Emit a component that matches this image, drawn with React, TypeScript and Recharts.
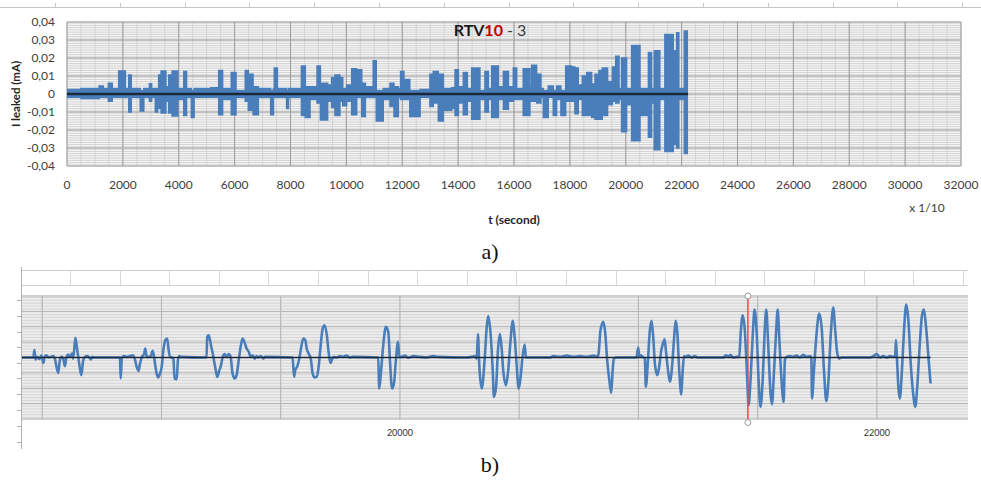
import React from 'react';
import {
  ComposedChart, Area, Line, XAxis, YAxis, CartesianGrid, ReferenceLine, ReferenceDot,
} from 'recharts';

// ---------- chart a) : full record ----------
const topXTicks = [0, 2000, 4000, 6000, 8000, 10000, 12000, 14000, 16000, 18000, 20000, 22000, 24000, 26000, 28000, 30000, 32000];
const topYTicks = [-0.04, -0.03, -0.02, -0.01, 0, 0.01, 0.02, 0.03, 0.04];

// envelope of the leakage current (start time of each stretch, its max and min)
const leakT = [0, 500, 1150, 1300, 1480, 1620, 1850, 2090, 2210, 2300, 2620, 2750, 2950, 3030, 3160, 3240, 3280, 3370, 3540, 3640,
  3760, 3970, 4180, 4280, 4450, 4550, 5150, 5430, 5570, 5880, 6050, 6380, 6490, 6660, 6850, 7290, 7390, 7420, 7530, 7860,
  7930, 8390, 8530, 8700, 8950, 9070, 9330, 9470, 9590, 9770, 9870, 10010, 10190, 10370, 10550, 10680, 10960, 11070, 11320, 11560,
  11705, 11860, 11940, 12060, 12270, 12640, 12990, 13110, 13290, 13470, 13770, 13890, 14010, 14185, 14330, 14485, 14780, 14960, 15080, 15200,
  15440, 15620, 15800, 15975, 16095, 16330, 16570, 16630, 16810, 16965, 17050, 17225, 17405, 17525, 17680, 17850, 18060, 18180, 18300, 18445,
  18600, 18780, 18900, 19040, 19160, 19350, 19520, 19640, 19760, 19850, 20030, 20210, 20510, 20810, 20925, 21020, 21220, 21400, 21700, 21820,
  21900, 22095, 22230];
const leakHigh = [0.0025, 0.003, 0.0045, 0.003, 0.006, 0.003, 0.0128, 0.003, 0.0105, 0.003, 0.002, 0.003, 0.0057, 0.003, 0.003, 0.002, 0.0105, 0.0128, 0.004, 0.0105,
  0.0128, 0.003, 0.0125, 0.003, 0.002, 0.003, 0.0035, 0.013, 0.003, 0.012, 0.002, 0.013, 0.011, 0.004, 0.003, 0.002, 0.003, 0.0145, 0.003, 0.002,
  0.003, 0.0155, 0.004, 0.004, 0.0155, 0.006, 0.005, 0.009, 0.0105, 0.009, 0.003, 0.005, 0.014, 0.0135, 0.006, 0.004, 0.0185, 0.002, 0.003, 0.006,
  0.004, 0.003, 0.0125, 0.008, 0.002, 0.0025, 0.011, 0.0125, 0.011, 0.003, 0.0035, 0.0135, 0.004, 0.012, 0.003, 0.0145, 0.002, 0.0125, 0.003, 0.0155,
  0.004, 0.0125, 0.004, 0.0145, 0.003, 0.014, 0.004, 0.016, 0.011, 0.003, 0.002, 0.0045, 0.002, 0.0045, 0.002, 0.0155, 0.015, 0.0145, 0.005, 0.010,
  0.012, 0.0055, 0.011, 0.013, 0.0145, 0.007, 0.015, 0.021, 0.003, 0.020, 0.003, 0.027, 0.003, 0.023, 0.003, 0.024, 0.003, 0.033, 0.024, 0.034,
  0.003, 0.035, 0.035];
const leakLow = [-0.002, -0.0025, -0.002, -0.002, -0.004, -0.002, -0.002, -0.002, -0.010, -0.002, -0.0095, -0.002, -0.004, -0.002, -0.010, -0.002, -0.008, -0.0105, -0.004, -0.0105,
  -0.0122, -0.003, -0.012, -0.002, -0.013, -0.002, -0.002, -0.0115, -0.003, -0.0115, -0.002, -0.004, -0.009, -0.0115, -0.002, -0.0115, -0.002, -0.002, -0.002, -0.008,
  -0.002, -0.012, -0.013, -0.003, -0.005, -0.0145, -0.004, -0.0075, -0.012, -0.004, -0.0065, -0.004, -0.0115, -0.002, -0.0125, -0.002, -0.002, -0.015, -0.003, -0.007,
  -0.0125, -0.002, -0.003, -0.003, -0.0125, -0.002, -0.007, -0.005, -0.015, -0.009, -0.008, -0.012, -0.005, -0.0115, -0.004, -0.014, -0.003, -0.010, -0.003, -0.013,
  -0.003, -0.0085, -0.004, -0.003, -0.003, -0.012, -0.004, -0.004, -0.005, -0.002, -0.013, -0.002, -0.012, -0.003, -0.012, -0.004, -0.004, -0.011, -0.003, -0.012,
  -0.012, -0.013, -0.014, -0.014, -0.012, -0.006, -0.004, -0.005, -0.003, -0.021, -0.006, -0.026, -0.012, -0.024, -0.005, -0.031, -0.003, -0.032, -0.028, -0.030,
  -0.003, -0.033, -0.033];
const leakBase = 0;

// ---------- chart b) : zoomed part ----------
const zoomXTicks = [20000, 22000];
const zoomGridX = [18500, 19000, 19500, 20000, 20500, 21000, 21500, 22000];
const zoomT = [18411, 18463, 18467, 18472, 18479, 18488, 18496, 18505, 18510, 18518, 18527, 18535, 18546, 18553, 18560, 18567, 18574, 18581, 18588, 18595,
  18602, 18609, 18616, 18625, 18630, 18639, 18647, 18655, 18664, 18672, 18679, 18689, 18697, 18704, 18711, 18717,
  18826, 18829, 18834, 18843, 18854, 18868, 18879, 18888, 18896, 18904, 18910, 18918, 18927, 18932, 18938, 18946, 18955, 18963, 18969, 18977,
  18985, 18994, 19001, 19008, 19016, 19024, 19030, 19036, 19043, 19050, 19055, 19064, 19069, 19075, 19080,
  19189, 19192, 19198, 19203, 19209, 19215, 19220, 19229, 19234, 19243, 19248, 19257, 19265, 19273, 19282, 19290, 19298, 19307, 19315, 19324,
  19332, 19340, 19349, 19357, 19366, 19374, 19382, 19391, 19399, 19407, 19416, 19427, 19434,
  19550, 19556, 19561, 19570, 19578, 19586, 19595, 19603, 19609, 19617, 19626, 19634, 19642, 19651, 19659, 19667, 19676, 19684, 19693, 19702,
  19709, 19715, 19723, 19734, 19748, 19762, 19776, 19790, 19802,
  19909, 19913, 19920, 19930, 19941, 19951, 19958, 19967, 19975, 19983, 19992, 19997, 20007, 20021, 20035, 20056, 20084, 20112, 20140, 20161,
  20273, 20301, 20315, 20322, 20327, 20333, 20343, 20355, 20364, 20370, 20380, 20389, 20394, 20403, 20411, 20419, 20426, 20433, 20445, 20454,
  20464, 20472, 20481, 20489, 20498, 20506, 20514, 20523, 20528, 20538,
  20629, 20643, 20671, 20699, 20727, 20755, 20783, 20811, 20828, 20833, 20841, 20853, 20861, 20869, 20878, 20886, 20892, 20897, 20909,
  20992, 20999, 21004, 21009, 21018, 21027, 21031, 21040, 21048, 21055, 21062, 21069, 21079, 21087, 21096, 21101, 21110, 21115, 21124, 21132,
  21141, 21149, 21156, 21163, 21171, 21180, 21185, 21191, 21199, 21209, 21223, 21237, 21247,
  21356, 21367, 21378, 21386, 21398, 21412, 21423, 21428, 21437, 21445, 21454, 21462, 21470, 21479, 21487, 21496, 21504, 21512, 21521, 21529,
  21536, 21544, 21554, 21560, 21568, 21577, 21584, 21591, 21600, 21609, 21614, 21621, 21635, 21649, 21663, 21677, 21691, 21705, 21719, 21725,
  21728, 21736, 21747, 21758, 21768, 21778, 21788, 21797, 21806, 21817, 21825, 21834, 21842, 21852,
  21971, 21985, 21999, 22013, 22027, 22041, 22055, 22069, 22076, 22080, 22084, 22090, 22096, 22105, 22113, 22123, 22132, 22141, 22152, 22161,
  22169, 22180, 22189, 22197, 22206, 22217, 22225];
const zoomV = [0, 0, 0.0048, -0.0013, 0.0004, -0.0009, 0.0013, -0.0035, 0.0004, 0.0015, 0, 0.0004, 0.0009, -0.0007, -0.0061, -0.0100, -0.0017, 0.0004, -0.0007, -0.0056,
  0.0004, 0.0020, 0.0004, 0.0026, -0.0007, 0.0128, 0.0048, -0.0039, -0.0115, -0.0017, 0.0004, 0.0009, 0, -0.0013, 0.0004, 0,
  0, -0.0137, 0, 0.0009, 0.0004, 0.0009, 0.0015, -0.0007, -0.0061, -0.0087, -0.0039, 0.0004, 0.0022, 0.0059, 0.0004, 0.0004, 0.0009, 0.0043, 0.0004, -0.0082,
  -0.0130, -0.0104, -0.0061, 0.0048, 0.0113, 0.0124, 0.0048, 0.0004, 0, -0.0007, -0.0137, -0.0141, -0.0017, 0.0009, 0.0004,
  0, 0.0135, 0.0145, 0.0117, 0.0069, 0.0026, -0.0017, -0.0093, -0.0126, -0.0082, -0.0061, 0.0004, 0.0022, 0.0004, 0.0022, 0.0004, -0.0104, -0.0137, -0.0115, -0.0017,
  0.0069, 0.0124, 0.0095, 0.0059, 0.0037, 0.0004, 0.0015, -0.0007, 0.0009, 0, 0.0009, -0.0007, 0.0004,
  0, -0.0126, -0.0082, -0.0056, -0.0007, 0.0069, 0.0124, 0.0113, 0.0059, 0.0026, -0.0007, -0.0104, -0.0130, -0.0126, -0.0061, 0.0069, 0.0189, 0.0210, 0.0150, 0.0020,
  -0.0035, -0.0013, 0.0004, 0, 0.0009, 0.0004, 0.0013, 0, 0.0004,
  0, -0.0202, -0.0104, 0.0080, 0.0200, 0.0167, -0.0017, -0.0202, -0.0169, -0.0017, 0.0102, 0.0004, 0.0004, 0.0013, -0.0002, 0.0009, 0.0004, 0, 0.0009, 0.0004,
  0, 0.0004, 0.0009, -0.0007, 0.0152, -0.0061, -0.0202, -0.0017, 0.0200, 0.0269, 0.0156, -0.0082, -0.0256, -0.0191, 0.0048, 0.0152, 0.0069, -0.0082, -0.0180, -0.0082,
  0.0113, 0.0239, 0.0134, -0.0039, -0.0202, -0.0126, 0.0004, 0.0085, 0, 0,
  0, 0.0009, 0.0004, 0.0013, 0.0004, 0.0009, 0.0004, 0.0013, 0.0004, 0.0026, 0.0178, 0.0232, 0.0156, -0.0017, -0.0147, -0.0230, -0.0082, -0.0007, 0,
  0, 0.0065, 0.0004, 0.0015, 0.0004, -0.0007, -0.0191, -0.0017, 0.0178, 0.0239, 0.0134, -0.0039, -0.0115, -0.0061, 0.0048, 0.0080, 0.0119, 0.0048, -0.0082, -0.0158,
  -0.0061, 0.0113, 0.0239, 0.0167, -0.0082, -0.0241, -0.0104, 0.0009, 0.0004, 0.0013, 0, 0.0009, 0,
  0, 0.0015, 0.0004, 0.0017, 0, 0.0004, 0.0004, 0.0135, 0.0275, 0.0200, -0.0061, -0.0310, -0.0147, 0.0134, 0.0312, 0.0156, -0.0147, -0.0321, -0.0147, 0.0156,
  0.0312, 0.0091, -0.0234, -0.0304, -0.0104, 0.0156, 0.0312, 0.0113, -0.0147, -0.0289, -0.0017, 0.0004, 0.0009, 0.0004, 0.0013, 0, 0.0017, 0.0004, 0.0009, 0,
  -0.0267, -0.0082, 0.0156, 0.0286, 0.0200, -0.0082, -0.0284, -0.0147, 0.0134, 0.0325, 0.0178, 0.0026, -0.0007, 0,
  0, 0.0009, 0.0022, 0, 0.0009, 0, 0.0009, 0.0004, 0.0004, 0.0113, 0, -0.0191, -0.0267, -0.0082, 0.0156, 0.0345, 0.0243, -0.0017, -0.0234, -0.0321,
  -0.0191, 0.0091, 0.0275, 0.0312, 0.0200, -0.0017, -0.0169];
const markerT = 21459;
const markerTop = 0.04;
const markerBottom = -0.0423;

// ---------- tables built for recharts ----------
const topRows = leakT.map((t, i) => ({ t, band: [leakLow[i], leakHigh[i]], base: leakBase }));
const zoomRows = zoomT.map((t, i) => ({ t, v: zoomV[i], base: 0 }));

const steps = (from: number, to: number, step: number, scale: number) => {
  const out: number[] = [];
  for (let k = Math.round(from / step); k <= Math.round(to / step); k++) out.push(Math.round(k * step * scale) / scale);
  return out;
};
const topMinorY = steps(-0.04, 0.04, 0.001, 10000);
const topMinorX = steps(0, 32000, 500, 1);
const zoomMinorY = steps(-0.04, 0.04, 0.001, 10000);

const fmtY = (v: number) => (v === 0 ? '0' : v.toFixed(2).replace('.', ','));

const FONT = 'Lato, "Open Sans", sans-serif';
const BLUE = '#4a7ebb';
const DARK = '#1d2838';

const abs = (left: number, top: number, w: number, h: number, bg: string): React.CSSProperties => ({
  position: 'absolute', left, top, width: w, height: h, background: bg,
});

const Centered = ({ x, y, children, style }: { x: number; y: number; children: React.ReactNode; style?: React.CSSProperties }) => (
  <div style={{ position: 'absolute', left: x, top: y, transform: 'translate(-50%, -50%)', whiteSpace: 'nowrap', lineHeight: 1, ...style }}>
    {children}
  </div>
);

const rulerTicks = Array.from({ length: 15 }, (_, k) => 55 + 64.8 * k);
const cellDividers = Array.from({ length: 19 }, (_, k) => 70 + 49.6 * k);
const leftAxisTicks = [300, 316, 332, 347, 363, 378, 394, 410, 426, 442];

export default function App() {
  return (
    <div style={{ position: 'absolute', left: 0, top: 0, width: 981, height: 480, background: '#fff', overflow: 'hidden', fontFamily: FONT }}>
      {/* ruler at the very top */}
      <div style={abs(0, 7, 981, 1, '#c6c6c6')} />
      {rulerTicks.map((x) => <div key={x} style={abs(Math.round(x), 3, 1, 4, '#c6c6c6')} />)}

      {/* chart a) */}
      <div style={{ position: 'absolute', left: 0, top: 0 }}>
        <ComposedChart width={981} height={240} data={topRows} margin={{ top: 22, right: 20, bottom: 0, left: 0 }}>
          <CartesianGrid stroke="#d2d2d2" horizontalValues={topMinorY} verticalValues={topMinorX} />
          <CartesianGrid stroke="#9c9c9c" horizontalValues={topYTicks} verticalValues={topXTicks} />
          <XAxis type="number" dataKey="t" domain={[0, 32000]} ticks={topXTicks} interval={0} allowDataOverflow
            axisLine={false} tickLine={false} tickSize={12} height={74}
            tick={{ fill: '#404040', fontSize: 12, fontFamily: FONT }} />
          <YAxis type="number" domain={[-0.04, 0.04]} ticks={topYTicks} interval={0} allowDataOverflow
            axisLine={false} tickLine={false} tickSize={10} width={67} tickFormatter={fmtY}
            tick={{ fill: '#404040', fontSize: 12, fontFamily: FONT }} />
          <Area type="stepAfter" dataKey="band" stroke={BLUE} strokeWidth={1.5} fill={BLUE} fillOpacity={1} isAnimationActive={false} />
          <Line type="linear" dataKey="base" stroke={DARK} strokeWidth={2.5} dot={false} isAnimationActive={false} />
        </ComposedChart>
      </div>

      <Centered x={16} y={94} style={{ transform: 'translate(-50%, -50%) rotate(-90deg)', fontSize: 11.5, fontWeight: 700, color: '#262626' }}>I leaked (mA)</Centered>
      <Centered x={490} y={30} style={{ fontSize: 16, color: '#404040' }}>
        <span style={{ fontWeight: 700, color: '#1a1a1a' }}>RTV</span>
        <span style={{ fontWeight: 700, color: '#c00000' }}>10</span>
        <span> - 3</span>
      </Centered>
      <Centered x={514} y={220} style={{ fontSize: 12, fontWeight: 700, color: '#262626' }}>t (second)</Centered>
      <Centered x={927} y={208} style={{ fontSize: 12, color: '#404040' }}>x 1/10</Centered>
      <Centered x={490} y={252} style={{ fontSize: 22, fontFamily: '"Liberation Serif", "Times New Roman", serif', color: '#111' }}>a)</Centered>

      {/* spreadsheet cells above chart b) */}
      <div style={abs(21, 270, 947, 1, '#cfcfcf')} />
      <div style={abs(21, 285, 947, 1, '#cfcfcf')} />
      {cellDividers.map((x) => <div key={x} style={abs(Math.round(x), 270, 1, 15, '#d6d6d6')} />)}

      {/* chart b) */}
      <div style={{ position: 'absolute', left: 0, top: 260 }}>
        <ComposedChart width={981} height={200} data={zoomRows} margin={{ top: 36, right: 13, bottom: 0, left: 21 }}>
          <CartesianGrid stroke="#d6d6d6" horizontalValues={zoomMinorY} verticalValues={zoomGridX} />
          <CartesianGrid stroke="#b4b4b4" horizontalValues={topYTicks} verticalValues={zoomGridX} />
          <XAxis type="number" dataKey="t" domain={[18411, 22382]} ticks={zoomXTicks} interval={0} allowDataOverflow
            axisLine={false} tickLine={false} tickSize={9} height={41}
            tick={{ fill: '#333', fontSize: 9, fontFamily: FONT }} />
          <YAxis hide type="number" domain={[-0.04, 0.04]} ticks={topYTicks} interval={0} allowDataOverflow />
          <Line type="monotone" dataKey="v" stroke={BLUE} strokeWidth={2.6} dot={false} isAnimationActive={false} />
          <Line type="linear" dataKey="base" stroke={DARK} strokeWidth={1.5} dot={false} isAnimationActive={false} />
          <ReferenceLine segment={[{ x: markerT, y: markerTop }, { x: markerT, y: markerBottom }]} stroke="#f04848" strokeWidth={1.5} ifOverflow="visible" />
          <ReferenceDot x={markerT} y={markerTop} r={3} fill="#fff" stroke="#9a9a9a" strokeWidth={1} ifOverflow="visible" />
          <ReferenceDot x={markerT} y={markerBottom} r={3} fill="#fff" stroke="#9a9a9a" strokeWidth={1} ifOverflow="visible" />
        </ComposedChart>
      </div>

      {/* left ruler of chart b) */}
      <div style={abs(21, 267, 1, 182, '#b0b0b0')} />
      {leftAxisTicks.map((y) => <div key={y} style={abs(17, y, 4, 1, '#b0b0b0')} />)}

      <Centered x={490} y={465} style={{ fontSize: 22, fontFamily: '"Liberation Serif", "Times New Roman", serif', color: '#111' }}>b)</Centered>
    </div>
  );
}
